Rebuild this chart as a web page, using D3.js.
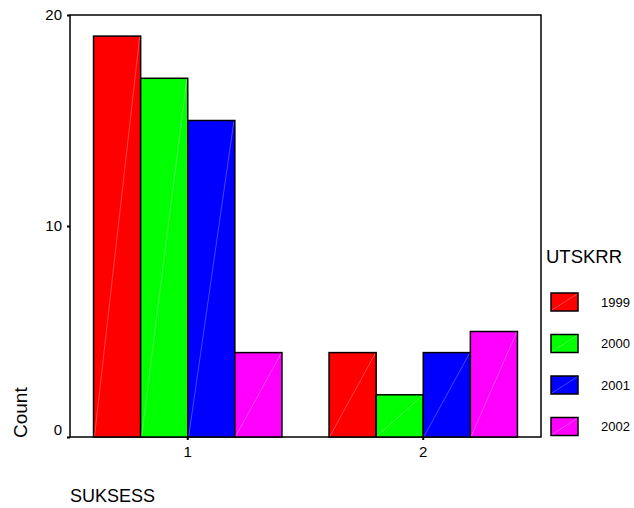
<!DOCTYPE html>
<html><head><meta charset="utf-8">
<script src="https://cdn.jsdelivr.net/npm/d3@7"></script>
<style>body{margin:0;background:#fff}svg{display:block}text{font-family:"Liberation Sans",Arial,sans-serif;fill:#000}</style>
</head><body>
<script>
const categories = ["1", "2"];
const seriesNames = ["1999", "2000", "2001", "2002"];
const values1999 = [19, 4];
const values2000 = [17, 2];
const values2001 = [15, 4];
const values2002 = [4, 5];
const yTicks = [0, 10, 20];
const colors = ["#ff0000", "#00ff00", "#0000ff", "#ff00ff"];

const seriesValues = [values1999, values2000, values2001, values2002];
const W = 634, H = 508;
const L = 70, R = 541, T = 15, B = 437;

const svg = d3.select("body").append("svg").attr("width", W).attr("height", H);

const x0 = d3.scaleBand().domain(categories).range([L, R]).paddingInner(0.2).paddingOuter(0.1);
const x1 = d3.scaleBand().domain(seriesNames).range([0, x0.bandwidth()]);
const y = d3.scaleLinear().domain([0, 20]).range([B, T]);

// frame
svg.append("rect").attr("x", L).attr("y", T).attr("width", R - L).attr("height", B - T)
  .attr("fill", "none").attr("stroke", "#000").attr("stroke-width", 1.5);

// bars
categories.forEach((c, ci) => {
  seriesNames.forEach((s, si) => {
    const v = seriesValues[si][ci];
    const bx = x0(c) + x1(s), bw = x1.bandwidth(), by = y(v), bh = y(0) - y(v);
    svg.append("rect").attr("x", bx).attr("y", by).attr("width", bw).attr("height", bh)
      .attr("fill", colors[si]).attr("stroke", "#000").attr("stroke-width", 1.5);
    svg.append("line").attr("x1", bx + 1).attr("y1", y(0) - 1).attr("x2", bx + bw - 1).attr("y2", by + 1)
      .attr("stroke", "#fff").attr("stroke-opacity", 0.35).attr("stroke-width", 0.8);
  });
});

// y axis
const yAxis = d3.axisLeft(y).tickValues(yTicks).tickSize(3).tickFormat(d3.format("d"));
const ya = svg.append("g").attr("transform", `translate(${L},0)`).call(yAxis);
ya.select(".domain").remove();
ya.selectAll(".tick line").attr("stroke", "#000").attr("stroke-width", 2);
ya.selectAll(".tick text").attr("font-size", 15).attr("x", -8)
  .attr("dy", d => d === 0 ? "-0.2em" : "0.32em");

// x axis
const xAxis = d3.axisBottom(x0).tickSize(3).tickPadding(6);
const xa = svg.append("g").attr("transform", `translate(0,${B})`).call(xAxis);
xa.select(".domain").remove();
xa.selectAll(".tick line").attr("stroke", "#000").attr("stroke-width", 2);
xa.selectAll(".tick text").attr("font-size", 15);

// axis titles
svg.append("text").attr("transform", `translate(27,${B + 1}) rotate(-90)`)
  .attr("text-anchor", "start").attr("font-size", 19).text("Count");
svg.append("text").attr("x", L).attr("y", 502).attr("font-size", 18).text("SUKSESS");

// legend
svg.append("text").attr("x", 546).attr("y", 263).attr("font-size", 18.5).text("UTSKRR");
seriesNames.forEach((s, i) => {
  const ly = 293 + i * 41.5;
  svg.append("rect").attr("x", 551).attr("y", ly).attr("width", 27).attr("height", 18)
    .attr("fill", colors[i]).attr("stroke", "#000").attr("stroke-width", 1.5);
  svg.append("line").attr("x1", 552).attr("y1", ly + 17).attr("x2", 577).attr("y2", ly + 1)
    .attr("stroke", "#fff").attr("stroke-opacity", 0.35).attr("stroke-width", 0.8);
  svg.append("text").attr("x", 601).attr("y", ly + 9).attr("dy", "0.35em")
    .attr("font-size", 13).text(s);
});
</script>
</body></html>
